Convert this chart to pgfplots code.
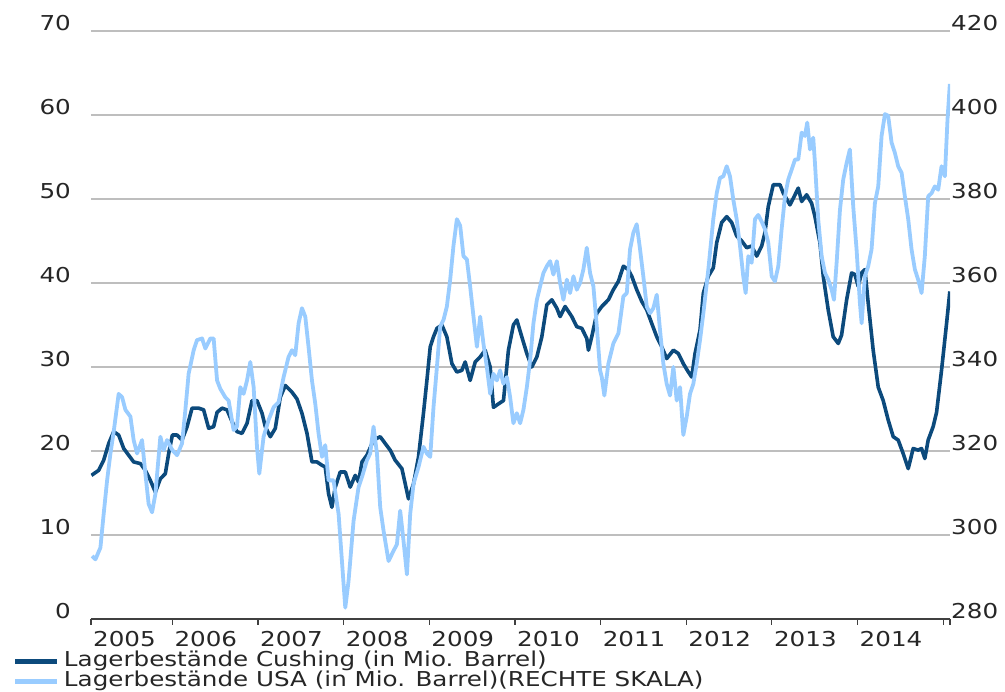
\documentclass[border=0pt]{standalone}
\usepackage{pgfplots}
\pgfplotsset{compat=1.18}
\usepackage{fontspec}
\setmainfont{DejaVu Sans}[FakeStretch=1.2]
\definecolor{cushing}{RGB}{12,74,124}
\definecolor{usa}{RGB}{153,204,255}
\definecolor{gridc}{RGB}{190,190,190}
\begin{document}
\begin{tikzpicture}
\pgfplotsset{
  base/.style={
    scale only axis, width=859pt, height=588pt,
    xmin=2005.05, xmax=2015.08,
    tick label style={font=\fontsize{20.5}{24}\selectfont, text=black!85},
    /pgf/number format/assume math mode=true,
  }
}
\begin{axis}[base, name=ax,
  ymin=0, ymax=70, ytick={0,10,20,30,40,50,60,70},
  ymajorgrids, grid style={gridc, line width=1.3pt},
  axis x line*=bottom, axis y line*=left,
  y axis line style={draw=none},
  x axis line style={black!75, line width=1.3pt},
  xtick={2005.05,2006,2007,2008,2009,2010,2011,2012,2013,2014},
  xticklabels={2005,2006,2007,2008,2009,2010,2011,2012,2013,2014},
  extra x ticks={2015,2015.08}, extra x tick labels={},
  tick align=outside, major tick length=6pt,
  xtick style={black!75, line width=1.2pt},
  ytick style={draw=none},
  xticklabel style={anchor=north west, inner sep=0pt, xshift=2pt, yshift=-6pt},
  yticklabel style={anchor=base east, inner sep=0pt, xshift=-14pt},
]
\addplot[cushing, line width=3.6pt, line join=round, no markers] coordinates {
(2005.055,17.1)(2005.140,17.7)(2005.198,18.9)(2005.257,20.9)(2005.315,22.3)(2005.373,21.9)(2005.432,20.3)(2005.490,19.5)(2005.548,18.7)(2005.627,18.5)(2005.685,17.7)(2005.743,16.5)(2005.802,15.1)(2005.860,16.7)(2005.918,17.3)(2005.957,19.7)(2006.000,21.9)(2006.055,21.9)(2006.113,21.3)(2006.172,22.9)(2006.230,25.1)(2006.307,25.1)(2006.365,24.9)(2006.424,22.7)(2006.482,22.9)(2006.522,24.6)(2006.580,25.1)(2006.638,24.9)(2006.697,23.5)(2006.755,22.3)(2006.813,22.1)(2006.872,23.3)(2006.930,26.0)(2006.988,26.0)(2007.047,24.5)(2007.085,22.9)(2007.144,21.7)(2007.202,22.7)(2007.260,26.4)(2007.319,27.8)(2007.397,27.0)(2007.455,26.2)(2007.513,24.5)(2007.572,22.1)(2007.630,18.7)(2007.688,18.7)(2007.747,18.3)(2007.785,18.1)(2007.824,14.9)(2007.863,13.3)(2007.902,15.7)(2007.960,17.5)(2008.019,17.5)(2008.077,15.7)(2008.135,17.1)(2008.174,16.3)(2008.214,18.7)(2008.272,19.5)(2008.349,21.3)(2008.427,21.7)(2008.485,20.9)(2008.544,20.1)(2008.602,18.9)(2008.680,17.9)(2008.719,16.1)(2008.757,14.3)(2008.816,16.1)(2008.874,19.3)(2008.932,24.5)(2008.972,28.4)(2009.011,32.4)(2009.049,33.6)(2009.089,34.6)(2009.147,35.0)(2009.205,33.6)(2009.264,30.4)(2009.322,29.4)(2009.380,29.6)(2009.419,30.6)(2009.477,28.4)(2009.536,30.6)(2009.594,31.2)(2009.652,32.0)(2009.711,30.0)(2009.749,25.2)(2009.807,25.6)(2009.866,26.0)(2009.924,32.0)(2009.982,35.0)(2010.022,35.6)(2010.080,33.6)(2010.139,31.6)(2010.197,30.0)(2010.256,31.2)(2010.314,33.6)(2010.372,37.4)(2010.431,38.0)(2010.489,37.0)(2010.527,36.0)(2010.586,37.2)(2010.664,36.0)(2010.722,34.8)(2010.781,34.6)(2010.839,33.4)(2010.858,32.0)(2010.897,33.6)(2010.956,36.4)(2011.014,37.2)(2011.091,38.0)(2011.149,39.2)(2011.208,40.2)(2011.266,42.0)(2011.324,41.6)(2011.364,40.8)(2011.422,39.2)(2011.481,37.8)(2011.539,36.8)(2011.597,35.2)(2011.656,33.6)(2011.714,32.4)(2011.772,31.0)(2011.850,32.0)(2011.908,31.6)(2011.966,30.4)(2012.025,29.4)(2012.064,28.8)(2012.103,31.6)(2012.161,34.4)(2012.200,38.8)(2012.258,40.8)(2012.316,41.8)(2012.356,44.8)(2012.414,47.2)(2012.473,47.9)(2012.531,47.2)(2012.589,45.6)(2012.648,45.0)(2012.706,44.2)(2012.764,44.4)(2012.823,43.2)(2012.881,44.4)(2012.919,46.0)(2012.958,49.1)(2013.016,51.7)(2013.095,51.7)(2013.133,50.7)(2013.211,49.3)(2013.270,50.5)(2013.308,51.3)(2013.348,49.7)(2013.406,50.5)(2013.464,49.5)(2013.503,47.9)(2013.561,44.8)(2013.600,40.8)(2013.658,36.8)(2013.716,33.6)(2013.775,32.8)(2013.814,33.8)(2013.873,38.0)(2013.931,41.2)(2013.970,41.0)(2014.008,39.6)(2014.048,41.2)(2014.086,41.6)(2014.125,37.6)(2014.183,32.0)(2014.242,27.6)(2014.300,26.0)(2014.358,23.7)(2014.417,21.7)(2014.475,21.3)(2014.533,19.7)(2014.592,17.9)(2014.650,20.3)(2014.708,20.1)(2014.748,20.3)(2014.786,19.1)(2014.825,21.3)(2014.883,22.9)(2014.923,24.6)(2014.981,29.6)(2015.040,35.2)(2015.078,39.0)
};
\end{axis}
\begin{axis}[base,
  ymin=280, ymax=420, ytick={280,300,320,340,360,380,400,420},
  axis y line*=right, axis x line=none,
  y axis line style={draw=none}, ytick style={draw=none},
  yticklabel style={anchor=base west, inner sep=0pt, xshift=1pt},
  legend style={at={(axis description cs:-0.0908,-0.0561)}, anchor=north west,
    draw=none, fill=none, inner sep=0pt, outer sep=0pt,
    font=\fontsize{20.5}{24}\selectfont, text=black!85,
    column sep=4pt, row sep=0pt,
    nodes={inner sep=0pt, text height=15pt, text depth=5pt}},
  legend cell align=left,
  legend image code/.code={\draw[#1, line width=5pt] (0pt,0pt) -- (42pt,0pt);},
]
\addlegendimage{cushing}
\addlegendentry{Lagerbestände Cushing (in Mio. Barrel)}
\addplot[usa, line width=3.8pt, line join=round, no markers] coordinates {
(2005.063,295.0)(2005.102,294.2)(2005.160,297.0)(2005.198,305.0)(2005.238,313.0)(2005.277,319.4)(2005.315,324.6)(2005.373,333.6)(2005.413,332.8)(2005.452,329.8)(2005.510,328.2)(2005.548,322.6)(2005.588,319.4)(2005.646,322.6)(2005.685,314.6)(2005.723,307.4)(2005.763,305.4)(2005.802,309.8)(2005.860,323.4)(2005.898,320.2)(2005.938,322.6)(2006.000,320.2)(2006.055,319.0)(2006.113,321.8)(2006.152,329.8)(2006.190,338.4)(2006.249,344.0)(2006.288,346.4)(2006.347,346.8)(2006.385,344.4)(2006.443,346.8)(2006.482,346.8)(2006.522,336.8)(2006.560,334.8)(2006.618,332.8)(2006.657,332.0)(2006.715,325.0)(2006.755,325.8)(2006.793,335.2)(2006.832,333.6)(2006.872,336.8)(2006.910,341.2)(2006.949,335.2)(2006.988,321.0)(2007.015,314.6)(2007.065,323.4)(2007.124,327.4)(2007.182,330.4)(2007.240,331.6)(2007.299,337.6)(2007.357,342.4)(2007.397,344.0)(2007.435,342.8)(2007.474,350.4)(2007.513,354.0)(2007.552,352.0)(2007.590,344.8)(2007.630,336.8)(2007.669,331.2)(2007.707,324.2)(2007.747,318.6)(2007.785,321.4)(2007.824,313.0)(2007.882,313.0)(2007.941,305.0)(2007.980,293.8)(2008.019,282.7)(2008.057,289.0)(2008.116,303.4)(2008.174,311.4)(2008.214,313.8)(2008.272,317.8)(2008.310,319.4)(2008.349,325.8)(2008.389,319.4)(2008.427,306.6)(2008.466,301.0)(2008.524,293.8)(2008.582,296.2)(2008.622,297.8)(2008.660,305.8)(2008.699,298.6)(2008.739,290.6)(2008.777,305.0)(2008.816,312.2)(2008.874,316.2)(2008.932,321.0)(2008.972,319.4)(2009.011,318.6)(2009.049,330.4)(2009.089,340.0)(2009.127,349.6)(2009.166,351.2)(2009.205,354.4)(2009.244,360.8)(2009.282,368.8)(2009.322,375.2)(2009.361,373.6)(2009.399,366.4)(2009.439,365.6)(2009.477,359.2)(2009.516,352.0)(2009.556,344.8)(2009.594,352.0)(2009.632,345.6)(2009.672,340.0)(2009.711,333.6)(2009.749,338.4)(2009.789,336.8)(2009.827,339.2)(2009.866,336.0)(2009.906,337.6)(2009.944,332.8)(2009.982,326.6)(2010.022,329.0)(2010.061,326.6)(2010.099,329.8)(2010.139,335.2)(2010.177,341.6)(2010.216,350.4)(2010.256,356.0)(2010.294,359.2)(2010.333,362.4)(2010.372,364.0)(2010.411,365.2)(2010.449,362.0)(2010.489,365.2)(2010.527,360.0)(2010.566,356.0)(2010.606,360.8)(2010.644,357.6)(2010.683,361.6)(2010.722,358.4)(2010.761,360.0)(2010.799,363.2)(2010.839,368.4)(2010.877,362.4)(2010.916,359.2)(2010.956,349.6)(2010.994,339.2)(2011.014,337.6)(2011.044,333.2)(2011.091,340.8)(2011.149,345.6)(2011.208,348.0)(2011.266,356.8)(2011.306,357.6)(2011.344,368.0)(2011.383,372.0)(2011.422,374.0)(2011.461,368.0)(2011.499,361.6)(2011.539,354.4)(2011.578,352.8)(2011.616,354.0)(2011.656,357.2)(2011.694,348.8)(2011.733,340.8)(2011.772,336.0)(2011.811,333.2)(2011.850,340.0)(2011.889,332.0)(2011.928,335.2)(2011.966,323.8)(2012.006,328.2)(2012.044,333.6)(2012.083,336.0)(2012.122,340.8)(2012.161,346.4)(2012.200,352.8)(2012.258,363.2)(2012.316,375.2)(2012.356,381.4)(2012.394,385.0)(2012.433,385.4)(2012.473,387.8)(2012.511,385.4)(2012.550,379.8)(2012.589,375.2)(2012.628,368.8)(2012.666,361.6)(2012.694,357.6)(2012.725,366.4)(2012.764,364.8)(2012.803,375.2)(2012.841,376.2)(2012.881,374.6)(2012.919,372.8)(2012.958,369.6)(2012.998,361.6)(2013.036,360.4)(2013.075,364.0)(2013.114,372.8)(2013.153,380.6)(2013.191,384.6)(2013.231,387.0)(2013.270,389.4)(2013.308,389.4)(2013.348,395.8)(2013.386,395.0)(2013.413,398.2)(2013.445,391.8)(2013.483,394.6)(2013.503,388.6)(2013.541,375.2)(2013.581,366.4)(2013.620,362.4)(2013.658,360.8)(2013.698,358.4)(2013.725,356.0)(2013.756,364.8)(2013.795,377.4)(2013.833,384.6)(2013.873,388.6)(2013.911,391.8)(2013.950,378.2)(2013.989,368.0)(2014.028,355.2)(2014.048,350.4)(2014.086,361.6)(2014.125,364.0)(2014.164,368.0)(2014.203,379.0)(2014.242,383.0)(2014.281,395.0)(2014.320,400.2)(2014.358,399.8)(2014.398,393.4)(2014.436,391.0)(2014.475,387.8)(2014.515,386.2)(2014.553,380.6)(2014.592,375.2)(2014.631,368.0)(2014.670,363.2)(2014.708,360.8)(2014.748,357.6)(2014.786,366.4)(2014.825,380.6)(2014.865,381.4)(2014.903,383.0)(2014.942,382.2)(2014.981,387.8)(2015.020,385.4)(2015.051,399.0)(2015.078,407.4)
};
\addlegendentry{Lagerbestände USA (in Mio. Barrel)(RECHTE SKALA)}
\end{axis}
\path ([shift={(-91pt,-72pt)}]ax.south west) rectangle ([shift={(55pt,31pt)}]ax.north east);
\end{tikzpicture}
\end{document}
